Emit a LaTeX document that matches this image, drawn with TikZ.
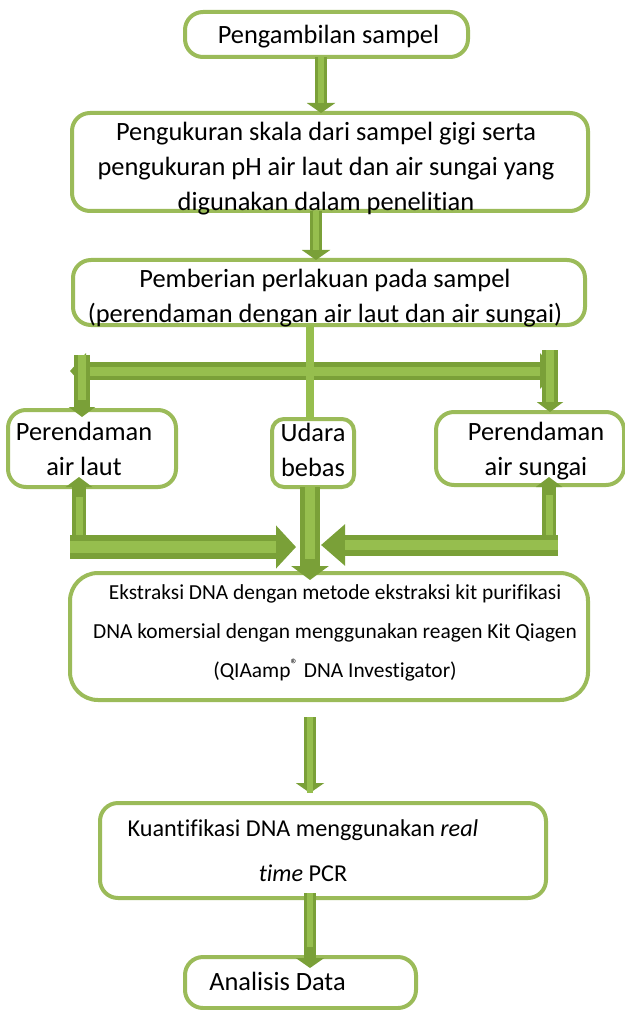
\documentclass[tikz,border=0pt]{standalone}
\usepackage{fontspec}
\setmainfont{Carlito}[Ligatures=CommonOff]
\usetikzlibrary{arrows.meta}
\definecolor{boxgreen}{RGB}{155,187,89}
\definecolor{arrgreen}{RGB}{122,160,56}
\definecolor{arrlight}{RGB}{150,190,78}
\begin{document}
\begin{tikzpicture}
	[x=0.5pt,y=-0.5pt,
	every node/.style={inner sep=0pt,outer sep=0},
	box/.style={draw=boxgreen,line width=2pt,rounded corners=9pt,fill=white},
	lbl/.style={align=center,font=\fontsize{13.2}{17.5}\selectfont},
	arr/.style n args={3}{draw=arrgreen,line width=#1,-{Triangle[width=#2,length=#3]},
		postaction={draw=arrlight,line width=0.5*#1,arrows=-,shorten >=#3}}]
	\useasboundingbox (0,0) rectangle (625,1010);
	% kolom dan titik bebas
	\coordinate (k1) at (321,0);
	\coordinate (k2) at (316,0);
	\coordinate (k3) at (310,0);
	\coordinate (split) at (310,371);
	\coordinate (kiri)  at (70,371);
	\coordinate (kanan) at (556,371);
	\coordinate (lt) at (82,355);
	\coordinate (rt) at (550,350);
	\coordinate (lb) at (79,547);
	\coordinate (rb) at (549,540);
	\coordinate (lh) at (70,547);
	\coordinate (lm) at (296,547);
	\coordinate (rh) at (558,545);
	\coordinate (rm) at (321,545);
	% kotak
	\node[box,minimum width=141.5pt,minimum height=22.5pt,
		label={[lbl,xshift=1pt,yshift=-1pt]center:Pengambilan sampel}] (ambil) at (326.5,34.5) {};
	\node[box,minimum width=258pt,minimum height=49pt,
		label={[lbl,xshift=-2pt,yshift=-3.5pt]center:{Pengukuran skala dari sampel gigi serta\\pengukuran pH air laut dan air sungai yang\\digunakan dalam penelitian}}] (ukur) at (330,162) {};
	\node[box,minimum width=256pt,minimum height=32.5pt,
		label={[lbl,xshift=-2pt,yshift=-3pt]center:{Pemberian perlakuan pada sampel\\(perendaman dengan air laut dan air sungai)}}] (rendam) at (329,292.5) {};
	\node[box,minimum width=84pt,minimum height=38.5pt,
		label={[lbl,xshift=-4pt]center:{Perendaman\\air laut}}] (laut) at (92,448.5) {};
	\node[box,minimum width=41pt,minimum height=34pt,rounded corners=6pt,
		label={[lbl,yshift=1.5pt]center:{Udara\\bebas}}] (udara) at (313,453) {};
	\node[box,minimum width=94pt,minimum height=36.5pt,
		label={[lbl,xshift=3pt,yshift=-1.2pt]center:{Perendaman\\air sungai}}] (sungai) at (530,448.5) {};
	\node[box,minimum width=259pt,minimum height=63.5pt,rounded corners=14pt,
		label={[lbl,font=\fontsize{10.7}{19.5}\selectfont,xshift=3pt,yshift=2pt]center:{Ekstraksi DNA dengan metode ekstraksi kit purifikasi\\DNA komersial dengan menggunakan reagen Kit Qiagen\\(QIAamp\textsuperscript{®} DNA Investigator)}}] (ekstrak) at (329,636.5) {};
	\node[box,minimum width=223pt,minimum height=47.5pt,
		label={[lbl,font=\fontsize{12.1}{22.5}\selectfont,xshift=-10pt]center:{Kuantifikasi DNA menggunakan \textit{real}\\\textit{time} PCR}}] (kuanti) at (323,850.5) {};
	\node[box,minimum width=115.5pt,minimum height=25.5pt,
		label={[lbl,xshift=-11.5pt,yshift=0.5pt]center:Analisis Data}] (analisis) at (300.5,982.5) {};
	% panah
	\draw[arr={6pt}{14pt}{5pt}] (ambil.south -| k1) -- (ukur.north -| k1);
	\draw[arr={6pt}{14pt}{5pt}] (ukur.south -| k2) -- (rendam.north -| k2);
	\draw[arr={9pt}{17.5pt}{8pt}] (split) -- (kiri);
	\draw[arr={9pt}{17.5pt}{8pt}] (split) -- (kanan);
	\draw[draw=arrlight,line width=4pt] (rendam.south -| k3) -- (udara.north -| k3);
	\draw[arr={8pt}{13pt}{5pt},shorten >=-3.5pt] (lt) -- (lt |- laut.north);
	\draw[arr={8pt}{13pt}{5pt}] (rt) -- (rt |- sungai.north);
	\draw[arr={7pt}{13pt}{5pt},shorten >=-5pt] (lb) -- (lb |- laut.south);
	\draw[arr={7pt}{13pt}{5pt},shorten >=-4pt] (rb) -- (rb |- sungai.south);
	\draw[arr={12pt}{21pt}{10pt}] (lh) -- (lm);
	\draw[arr={10.5pt}{20pt}{12pt}] (rh) -- (rm);
	\draw[arr={10pt}{18.5pt}{7pt},shorten >=-3.5pt] (udara.south -| k3) -- (ekstrak.north -| k3);
	\draw[arr={6pt}{14pt}{5pt},shorten <=8.5pt,shorten >=5pt] (ekstrak.south -| k3) -- (kuanti.north -| k3);
	\draw[arr={6pt}{14pt}{5pt},shorten <=-2.5pt,shorten >=-5.5pt] (kuanti.south -| k3) -- (analisis.north -| k3);
\end{tikzpicture}
\end{document}
